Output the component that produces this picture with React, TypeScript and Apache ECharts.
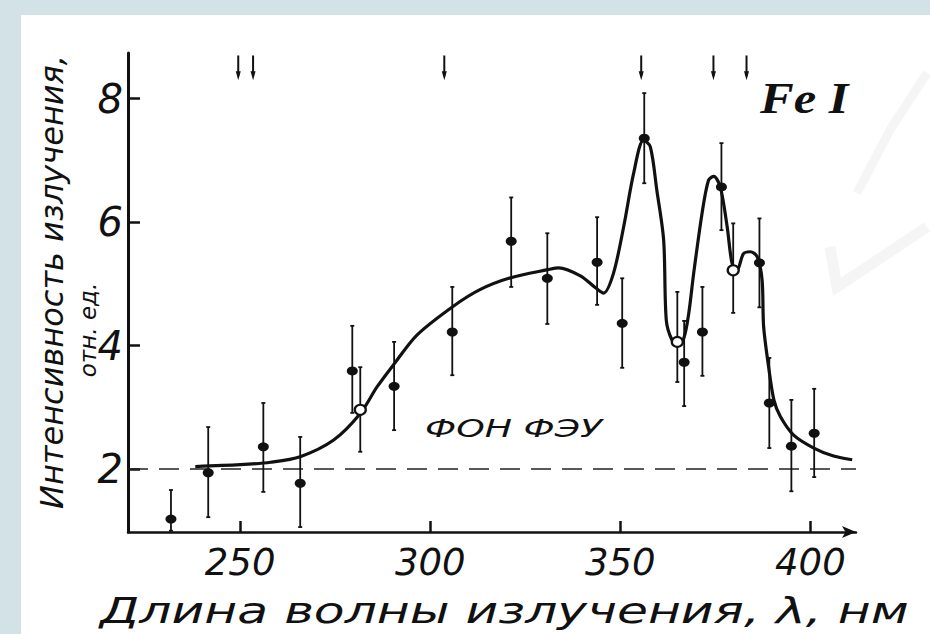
import React, { useEffect, useRef } from "react";
import * as echarts from "echarts";

// ---- data ----
const xTicks = [250, 300, 350, 400];
const yTicks = [2, 4, 6, 8];

const pointWavelengths = [231.8, 241.6, 256.1, 265.8, 279.5, 281.6, 290.5, 305.8, 321.3, 330.8, 343.9, 350.5, 356.3, 365.0, 366.8, 371.6, 376.6, 379.7, 386.6, 389.2, 395.0, 401.0];
const pointValues = [1.19, 1.94, 2.36, 1.77, 3.59, 2.96, 3.34, 4.22, 5.69, 5.09, 5.35, 4.36, 7.36, 4.06, 3.73, 4.22, 6.57, 5.22, 5.34, 3.07, 2.37, 2.58];
const errLow = [1.0, 1.22, 1.63, 1.06, 2.91, 2.28, 2.63, 3.52, 4.95, 4.35, 4.66, 3.64, 6.63, 3.41, 3.02, 3.51, 5.87, 4.53, 4.62, 2.34, 1.64, 1.87];
const errHigh = [1.66, 2.68, 3.07, 2.52, 4.32, 3.65, 4.06, 4.95, 6.4, 5.82, 6.08, 5.09, 8.09, 4.87, 4.4, 4.95, 7.28, 5.98, 6.06, 3.8, 3.12, 3.3];
const pointOpen = [false, false, false, false, false, true, false, false, false, false, false, false, false, true, false, false, false, true, false, false, false, false];

const curveWavelengths = [238.2, 250, 258, 265.8, 274.6, 281.6, 286.0, 290.6, 296.5, 305.9, 313.2, 321.2, 330.9, 333.8, 339.5, 343.4, 345.6, 348.2, 350.9, 353.5, 356.1, 357.9, 359.6, 361.4, 362.1, 363.6, 365.1, 366.7, 368.0, 369.3, 371.5, 373.2, 374.6, 376.3, 378.1, 379.4, 380.7, 382.4, 384.2, 386.0, 387.3, 387.7, 389.0, 390.4, 392.1, 395.6, 400.9, 406.1, 411.0];
const curveValues = [2.04, 2.07, 2.11, 2.2, 2.47, 2.9, 3.33, 3.71, 4.17, 4.63, 4.91, 5.1, 5.23, 5.26, 5.13, 4.94, 4.85, 5.17, 5.93, 6.79, 7.33, 7.22, 6.52, 5.71, 4.41, 4.09, 4.02, 4.12, 4.52, 5.17, 6.14, 6.68, 6.74, 6.57, 5.93, 5.33, 5.22, 5.49, 5.52, 5.44, 5.06, 4.31, 3.66, 3.12, 2.85, 2.55, 2.34, 2.21, 2.15];

const lineMarks = [249.5, 253.4, 303.7, 355.5, 374.5, 383.2];
const arrowTop = 8.7;
const arrowBottom = 8.3;

const backgroundLevel = 2;
const backgroundRange = [220.5, 412];

const INK = "#111";
const HAND = "DejaVu Sans";

export default function App() {
  const ref = useRef<HTMLDivElement>(null);

  useEffect(() => {
    if (!ref.current) return;
    const chart = echarts.init(ref.current, null, { renderer: "svg" });

    const errData = pointWavelengths.map((w, i) => [w, errLow[i], errHigh[i]]);
    const filled = pointWavelengths.map((w, i) => (pointOpen[i] ? null : [w, pointValues[i]])).filter(Boolean);
    const open = pointWavelengths.map((w, i) => (pointOpen[i] ? [w, pointValues[i]] : null)).filter(Boolean);
    const curve = curveWavelengths.map((w, i) => [w, curveValues[i]]);
    const arrows = lineMarks.map((w) => [w, arrowTop, arrowBottom]);

    const option: any = {
      animation: false,
      backgroundColor: "transparent",
      grid: { left: 128, right: 74, top: 53, bottom: 102, containLabel: false, outerBoundsMode: "none" },
      xAxis: {
        type: "value",
        min: 220.5,
        max: 412,
        axisLine: { show: true, lineStyle: { color: INK, width: 2.5 }, symbol: ["none", "arrow"], symbolSize: [9, 14] },
        axisTick: { show: true, inside: true, length: 11, customValues: xTicks, lineStyle: { color: INK, width: 2.5 } },
        axisLabel: { show: true, customValues: xTicks, fontSize: 37, fontFamily: HAND, fontStyle: "italic", color: INK, margin: 12 },
        splitLine: { show: false },
      },
      yAxis: {
        type: "value",
        min: 0.98,
        max: 8.74,
        axisLine: { show: true, lineStyle: { color: INK, width: 3 } },
        axisTick: { show: true, inside: true, length: 12, customValues: yTicks, lineStyle: { color: INK, width: 2.5 } },
        axisLabel: { show: true, customValues: yTicks, fontSize: 40, fontFamily: HAND, fontStyle: "italic", color: INK, margin: 5 },
        splitLine: { show: false },
      },
      graphic: [
        { type: "polyline", z: -1, silent: true, shape: { points: [[857, 193], [890, 130], [927, 73]] }, style: { stroke: "#f5f5f5", lineWidth: 9, fill: null } },
        { type: "polyline", z: -1, silent: true, shape: { points: [[830, 247], [837, 287], [927, 227]] }, style: { stroke: "#f5f5f5", lineWidth: 11, fill: null } },
        {
          type: "text", x: 52, y: 282, rotation: Math.PI / 2,
          style: { text: "Интенсивность излучения,", fontSize: 32, fontFamily: HAND, fontStyle: "italic", fill: INK, textAlign: "center", textVerticalAlign: "middle" },
        },
        {
          type: "text", x: 88, y: 330, rotation: Math.PI / 2,
          style: { text: "отн. ед.", fontSize: 23, fontFamily: HAND, fontStyle: "italic", fill: INK, textAlign: "center", textVerticalAlign: "middle" },
        },
        {
          type: "text", x: 100, y: 610, scaleX: 1.4,
          style: { text: "Длина волны излучения, λ, нм", fontSize: 36, fontFamily: HAND, fontStyle: "italic", fill: INK, textAlign: "left", textVerticalAlign: "middle" },
        },
        {
          type: "text", x: 425, y: 428, scaleX: 1.45,
          style: { text: "ФОН ФЭУ", fontSize: 25, fontFamily: HAND, fontStyle: "italic", fill: INK, textAlign: "left", textVerticalAlign: "middle" },
        },
        {
          type: "text", x: 760, y: 98, scaleX: 1.15,
          style: { text: "Fe I", fontSize: 44, fontFamily: "Liberation Serif", fontStyle: "italic", fontWeight: "bold", fill: INK, textAlign: "left", textVerticalAlign: "middle" },
        },
      ],
      series: [
        {
          type: "line",
          data: backgroundRange.map((w) => [w, backgroundLevel]),
          symbol: "none",
          lineStyle: { color: "#222", width: 1.6, type: [20, 11] },
          z: 1,
        },
        {
          type: "line",
          data: curve,
          smooth: 0.3,
          symbol: "none",
          lineStyle: { color: INK, width: 3.2 },
          z: 3,
        },
        {
          type: "custom",
          data: errData,
          encode: { x: 0, y: [1, 2] },
          z: 2,
          renderItem: (params: any, api: any) => {
            const x = api.value(0);
            const p1 = api.coord([x, api.value(1)]);
            const p2 = api.coord([x, api.value(2)]);
            const st = { stroke: INK, lineWidth: 1.8 };
            return {
              type: "group",
              children: [
                { type: "line", shape: { x1: p1[0], y1: p1[1], x2: p2[0], y2: p2[1] }, style: st },
                { type: "line", shape: { x1: p2[0] - 2, y1: p2[1], x2: p2[0] + 2, y2: p2[1] }, style: st },
                { type: "line", shape: { x1: p1[0] - 2, y1: p1[1], x2: p1[0] + 2, y2: p1[1] }, style: st },
              ],
            };
          },
        },
        {
          type: "scatter",
          data: filled,
          symbol: "circle",
          symbolSize: [11, 9],
          itemStyle: { color: INK, opacity: 1 },
          z: 4,
        },
        {
          type: "scatter",
          data: open,
          symbol: "circle",
          symbolSize: [11, 10],
          itemStyle: { color: "#ffffff", borderColor: INK, borderWidth: 2.2, opacity: 1 },
          z: 4,
        },
        {
          type: "custom",
          data: arrows,
          encode: { x: 0, y: [1, 2] },
          z: 2,
          renderItem: (params: any, api: any) => {
            const x = api.value(0);
            const t = api.coord([x, api.value(1)]);
            const b = api.coord([x, api.value(2)]);
            return {
              type: "group",
              children: [
                { type: "line", shape: { x1: t[0], y1: t[1], x2: b[0], y2: b[1] - 4 }, style: { stroke: INK, lineWidth: 2 } },
                { type: "polygon", shape: { points: [[b[0] - 2.5, b[1] - 9], [b[0] + 2.5, b[1] - 9], [b[0], b[1]]] }, style: { fill: INK } },
              ],
            };
          },
        },
      ],
    };

    chart.setOption(option);
    return () => chart.dispose();
  }, []);

  return (
    <div style={{ position: "fixed", left: 0, top: 0, width: 930, height: 634, background: "#d3e2e7" }}>
      <div style={{ position: "absolute", left: 21, top: 15, width: 909, height: 619, background: "#ffffff" }} />
      <div ref={ref} style={{ position: "absolute", left: 0, top: 0, width: 930, height: 634 }} />
    </div>
  );
}
